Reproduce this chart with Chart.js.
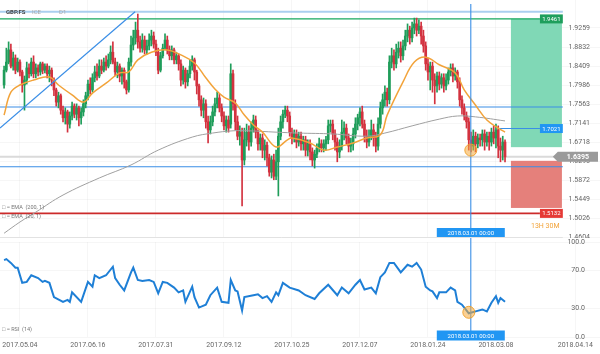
<!DOCTYPE html>
<html><head><meta charset="utf-8">
<script src="https://cdn.jsdelivr.net/npm/chart.js@4.4.1/dist/chart.umd.min.js"></script>
<style>
html,body{margin:0;padding:0;background:#fff;}
#wrap{position:relative;width:600px;height:354px;overflow:hidden;background:#fff;}
.p{position:absolute;left:0;width:600px;}
</style></head><body>
<div id="wrap">
<div class="p" style="top:0;height:238px"><canvas id="c1" width="600" height="238"></canvas></div>
<div class="p" style="top:238px;height:116px"><canvas id="c2" width="600" height="116"></canvas></div>
</div>
<script>
// ---- daily candles (index 0 = 2017-04-25 approx) ----
const opens = [1.799,1.832,1.850,1.877,1.841,1.859,1.832,1.850,1.828,1.799,
1.810,1.837,1.824,1.850,1.824,1.837,1.828,1.846,1.832,1.841,
1.824,1.832,1.810,1.788,1.761,1.775,1.743,1.726,1.739,1.712,
1.730,1.752,1.734,1.748,1.726,1.739,1.757,1.775,1.801,1.788,
1.815,1.828,1.819,1.841,1.832,1.850,1.841,1.855,1.872,1.850,
1.828,1.841,1.819,1.832,1.806,1.788,1.850,1.888,1.904,1.921,
1.895,1.881,1.899,1.877,1.886,1.899,1.908,1.890,1.872,1.832,
1.864,1.881,1.899,1.877,1.864,1.877,1.855,1.864,1.846,1.810,
1.832,1.806,1.824,1.841,1.855,1.828,1.797,1.766,1.743,1.757,
1.717,1.699,1.717,1.739,1.757,1.770,1.748,1.730,1.708,1.721,
1.712,1.824,1.757,1.717,1.685,1.694,1.632,1.677,1.694,1.672,
1.703,1.721,1.694,1.668,1.681,1.654,1.665,1.637,1.605,1.632,
1.596,1.628,1.685,1.717,1.734,1.743,1.730,1.694,1.681,1.690,
1.672,1.685,1.668,1.677,1.654,1.668,1.650,1.632,1.645,1.659,
1.668,1.659,1.668,1.677,1.708,1.712,1.690,1.672,1.650,1.663,
1.694,1.703,1.681,1.663,1.668,1.690,1.712,1.726,1.739,1.712,
1.685,1.672,1.685,1.699,1.681,1.663,1.712,1.748,1.766,1.783,
1.766,1.850,1.864,1.846,1.872,1.881,1.864,1.886,1.908,1.921,
1.904,1.926,1.935,1.921,1.930,1.908,1.886,1.846,1.828,1.841,
1.810,1.797,1.819,1.801,1.815,1.797,1.810,1.828,1.837,1.819,
1.828,1.806,1.766,1.748,1.730,1.717,1.677,1.663,1.685,1.668,
1.681,1.677,1.690,1.672,1.685,1.672,1.694,1.681,1.699,1.663,
1.654,1.672];
const highs = [1.841,1.881,1.895,1.890,1.872,1.866,1.859,1.855,1.832,1.819,
1.850,1.846,1.859,1.864,1.846,1.844,1.850,1.850,1.846,1.846,
1.841,1.837,1.815,1.792,1.783,1.779,1.752,1.748,1.743,1.739,
1.761,1.757,1.757,1.752,1.748,1.766,1.783,1.810,1.815,1.824,
1.841,1.846,1.855,1.855,1.859,1.864,1.868,1.886,1.895,1.859,
1.850,1.846,1.837,1.837,1.810,1.859,1.908,1.921,1.939,1.957,
1.908,1.913,1.908,1.899,1.913,1.921,1.917,1.899,1.881,1.872,
1.890,1.913,1.908,1.886,1.886,1.881,1.872,1.868,1.855,1.841,
1.837,1.832,1.855,1.864,1.859,1.832,1.801,1.775,1.770,1.766,
1.730,1.730,1.752,1.770,1.783,1.779,1.757,1.739,1.730,1.730,
1.846,1.832,1.766,1.730,1.708,1.703,1.703,1.712,1.708,1.717,
1.732,1.730,1.699,1.690,1.690,1.677,1.672,1.645,1.641,1.645,
1.654,1.703,1.730,1.743,1.752,1.752,1.739,1.703,1.699,1.699,
1.694,1.694,1.685,1.685,1.677,1.677,1.659,1.654,1.668,1.681,
1.677,1.677,1.685,1.721,1.721,1.721,1.699,1.681,1.677,1.721,
1.717,1.712,1.690,1.681,1.703,1.726,1.734,1.748,1.752,1.721,
1.699,1.699,1.721,1.712,1.694,1.726,1.761,1.779,1.797,1.792,
1.864,1.881,1.877,1.890,1.895,1.895,1.899,1.921,1.935,1.930,
1.939,1.948,1.948,1.944,1.939,1.921,1.895,1.859,1.850,1.850,
1.824,1.828,1.828,1.824,1.824,1.824,1.837,1.846,1.846,1.837,
1.832,1.815,1.775,1.757,1.739,1.726,1.694,1.699,1.694,1.690,
1.690,1.699,1.699,1.694,1.694,1.703,1.708,1.712,1.708,1.681,
1.685,1.677];
const lows = [1.792,1.828,1.846,1.837,1.832,1.824,1.828,1.819,1.783,1.743,
1.801,1.815,1.819,1.815,1.815,1.819,1.821,1.824,1.826,1.815,
1.806,1.797,1.775,1.752,1.748,1.734,1.717,1.712,1.694,1.703,
1.721,1.726,1.721,1.708,1.712,1.730,1.748,1.766,1.779,1.783,
1.806,1.810,1.815,1.824,1.828,1.832,1.837,1.846,1.846,1.819,
1.815,1.806,1.801,1.792,1.779,1.783,1.841,1.877,1.890,1.881,
1.872,1.872,1.868,1.868,1.877,1.886,1.881,1.864,1.824,1.828,
1.859,1.877,1.868,1.855,1.855,1.846,1.846,1.832,1.797,1.801,
1.792,1.797,1.815,1.832,1.810,1.779,1.752,1.730,1.726,1.703,
1.670,1.690,1.708,1.730,1.748,1.739,1.717,1.699,1.694,1.694,
1.703,1.743,1.699,1.677,1.665,1.530,1.621,1.663,1.654,1.663,
1.694,1.681,1.654,1.654,1.637,1.632,1.619,1.596,1.592,1.588,
1.588,1.552,1.677,1.703,1.726,1.717,1.685,1.668,1.672,1.659,
1.663,1.654,1.654,1.641,1.641,1.632,1.619,1.614,1.637,1.650,
1.650,1.650,1.654,1.668,1.694,1.677,1.654,1.628,1.637,1.654,
1.677,1.668,1.650,1.650,1.654,1.681,1.699,1.708,1.703,1.672,
1.659,1.663,1.677,1.663,1.650,1.654,1.703,1.734,1.752,1.752,
1.757,1.837,1.832,1.837,1.859,1.850,1.855,1.877,1.895,1.890,
1.895,1.913,1.908,1.913,1.890,1.872,1.832,1.810,1.788,1.783,
1.757,1.783,1.788,1.792,1.783,1.788,1.801,1.819,1.806,1.810,
1.792,1.752,1.734,1.721,1.703,1.654,1.650,1.654,1.650,1.659,
1.663,1.663,1.654,1.663,1.654,1.663,1.668,1.659,1.637,1.628,
1.632,1.628];
const closes = [1.832,1.850,1.877,1.841,1.859,1.832,1.850,1.828,1.799,1.810,
1.837,1.824,1.850,1.824,1.837,1.828,1.846,1.832,1.841,1.824,
1.832,1.810,1.788,1.761,1.775,1.743,1.726,1.739,1.712,1.730,
1.752,1.734,1.748,1.726,1.739,1.757,1.775,1.801,1.788,1.815,
1.828,1.819,1.841,1.832,1.850,1.841,1.855,1.872,1.850,1.828,
1.841,1.819,1.832,1.806,1.788,1.850,1.888,1.904,1.921,1.895,
1.881,1.899,1.877,1.886,1.899,1.908,1.890,1.872,1.832,1.864,
1.881,1.899,1.877,1.864,1.877,1.855,1.864,1.846,1.810,1.832,
1.806,1.824,1.841,1.855,1.828,1.797,1.766,1.743,1.757,1.717,
1.699,1.717,1.739,1.757,1.770,1.748,1.730,1.708,1.721,1.703,
1.824,1.757,1.717,1.685,1.694,1.632,1.677,1.694,1.672,1.703,
1.721,1.694,1.668,1.681,1.654,1.665,1.637,1.605,1.632,1.596,
1.628,1.685,1.717,1.734,1.743,1.730,1.694,1.681,1.690,1.672,
1.685,1.668,1.677,1.654,1.668,1.650,1.632,1.645,1.659,1.668,
1.659,1.668,1.677,1.708,1.712,1.690,1.672,1.650,1.663,1.694,
1.703,1.681,1.663,1.668,1.690,1.712,1.726,1.739,1.712,1.685,
1.672,1.685,1.699,1.681,1.663,1.712,1.748,1.766,1.783,1.766,
1.850,1.864,1.846,1.872,1.881,1.864,1.886,1.908,1.921,1.904,
1.926,1.935,1.921,1.930,1.908,1.886,1.846,1.828,1.841,1.810,
1.797,1.819,1.801,1.815,1.797,1.810,1.828,1.837,1.819,1.828,
1.806,1.766,1.748,1.730,1.717,1.677,1.663,1.685,1.668,1.681,
1.677,1.690,1.672,1.685,1.672,1.694,1.681,1.699,1.663,1.654,
1.672,1.639];

// ---- moving averages (read at sample candles) ----
const ema20Idx = [0,3,7,13,20,24,30,35,39,45,51,55,59,65,72,78,84,89,93,97,102,106,110,114,120,125,127,135,141,147,154,160,166,169,176,181,186,192,199,203,208,213,218,221];
const ema20Val = [1.732,1.783,1.799,1.810,1.817,1.799,1.777,1.761,1.781,1.803,1.826,1.828,1.855,1.872,1.877,1.866,1.848,1.815,1.790,1.772,1.759,1.732,1.710,1.694,1.661,1.677,1.681,1.670,1.654,1.661,1.670,1.681,1.688,1.732,1.806,1.850,1.861,1.844,1.826,1.788,1.754,1.721,1.703,1.694];
const ema200Idx = [0,7,14,26,42,56,68,83,92,101,108,120,130,145,160,168,180,192,200,208,221];
const ema200Val = [1.469,1.494,1.516,1.554,1.592,1.621,1.654,1.683,1.692,1.697,1.697,1.694,1.692,1.690,1.685,1.692,1.708,1.723,1.730,1.728,1.719];

// ---- RSI(14) ----
const rsiIdx = [0,1,3,5,6,8,10,12,15,17,18,20,22,26,28,29,30,34,37,39,40,42,45,48,49,51,53,56,57,59,61,64,66,68,70,72,75,77,79,80,83,84,86,89,91,94,96,99,100,102,103,105,106,110,112,114,116,118,120,121,123,126,130,133,137,139,143,147,149,152,155,157,159,162,164,166,168,170,172,175,178,180,182,184,186,188,189,191,192,195,197,199,200,202,204,205,208,211,213,215,217,218,219,221];
const rsiVal = [81,82,78,73,73,57,58,65,62,58,59,57,42,37,39,37,47,37,58,53,65,62,65,74,62,55,49,68,73,60,59,60,58,46,58,57,52,47,49,37,53,42,31,34,44,52,37,36,60,49,48,28,42,44,45,41,43,37,47,44,57,52,49,44,40,46,55,44,52,46,55,60,50,52,46,63,68,78,78,68,76,74,78,71,53,49,48,41,47,47,52,49,37,34,28,25,27,29,27,36,43,36,41,37];

// ---- axes ----
const priceTicks = [1.9259,1.8832,1.8409,1.7986,1.7563,1.7141,1.6718,1.6295,1.5872,1.5449,1.5026,1.4604];
const rsiTicks = [100,70,30,0];
const xTickIdx = [7,37,67,97,127,157,187,217,252];
const xTickLabels = ['2017.05.04','2017.06.16','2017.07.31','2017.09.12','2017.10.25','2017.12.07','2018.01.24','2018.03.08','2018.04.14'];

// ---- drawing tools (price levels / index positions) ----
const trendIdx = [-1.8, 57.8];
const trendVal = [1.703, 1.962];
const lvlTop = 1.962, lvlTP = 1.9461, lvlBlueHi = 1.750, lvlEntry = 1.7021, lvlLast = 1.6395, lvlBlueLo = 1.617, lvlStop = 1.5132;
const tpBox = [1.9461, 1.6606], slBox = [1.6302, 1.5253];
const boxIdx = [223.6, 246.1];
const spanEnd = 246.5, tagStart = 236.4, entryStart = 218.8;
const crossIdx = 205.9, crossLabel = '2018.03.01 00:00';
const markPrice = 1.654, markRsi = 26;
const xMin = -1.8, xMax = 262.9;

const UP = '#1f9d5a', DN = '#d3323f', BLUE = '#3a8ee6';
Chart.defaults.font.family = 'Roboto, "DejaVu Sans", sans-serif';
Chart.defaults.color = '#666';

function tag(ctx, text, x0, x1, cy, bg, fg, h){
  h = h || 9;
  ctx.fillStyle = bg; ctx.fillRect(x0, cy - h/2, x1 - x0, h);
  ctx.fillStyle = fg; ctx.font = '6px Roboto'; ctx.textAlign = 'center'; ctx.textBaseline = 'middle';
  ctx.fillText(text, (x0 + x1)/2, cy + 0.5);
}
function hline(ctx, xs, ys, v, i0, i1, color, w){
  const py = ys.getPixelForValue(v);
  ctx.beginPath(); ctx.moveTo(xs.getPixelForValue(i0), py); ctx.lineTo(xs.getPixelForValue(i1), py);
  ctx.strokeStyle = color; ctx.lineWidth = w; ctx.stroke();
}
function circle(ctx, x, y){
  ctx.beginPath(); ctx.arc(x, y, 6, 0, Math.PI*2);
  ctx.fillStyle = 'rgba(245,170,60,0.55)'; ctx.fill();
  ctx.strokeStyle = 'rgba(240,160,40,0.9)'; ctx.lineWidth = 1; ctx.stroke();
}
function noPad(s){ s.width = 0; s.paddingTop = 0; s.paddingBottom = 0; }

const overlayTop = {
  id: 'overlayTop',
  beforeDatasetsDraw(chart){
    const {ctx, scales:{x, y}} = chart;
    ctx.save();
    const bx0 = x.getPixelForValue(boxIdx[0]), bx1 = x.getPixelForValue(boxIdx[1]);
    ctx.fillStyle = '#80d8b6';
    ctx.fillRect(bx0, y.getPixelForValue(tpBox[0]), bx1 - bx0, y.getPixelForValue(tpBox[1]) - y.getPixelForValue(tpBox[0]));
    ctx.fillStyle = '#e5807b';
    ctx.fillRect(bx0, y.getPixelForValue(slBox[0]), bx1 - bx0, y.getPixelForValue(slBox[1]) - y.getPixelForValue(slBox[0]));
    hline(ctx, x, y, lvlTop, xMin, spanEnd, 'rgba(150,195,235,0.8)', 2);
    hline(ctx, x, y, lvlTP, xMin, tagStart, '#17a85e', 1.3);
    hline(ctx, x, y, lvlBlueHi, xMin, spanEnd, BLUE, 1.1);
    hline(ctx, x, y, lvlEntry, entryStart, tagStart, BLUE, 1.1);
    hline(ctx, x, y, lvlLast, xMin, spanEnd, '#dadada', 2);
    hline(ctx, x, y, lvlBlueLo, xMin, spanEnd, BLUE, 1.1);
    hline(ctx, x, y, lvlStop, xMin, tagStart, '#cc2a2a', 1.8);
    ctx.restore();
  },
  afterDraw(chart){
    const {ctx, scales:{x, y}, chartArea} = chart;
    ctx.save();
    const cx = x.getPixelForValue(crossIdx);
    ctx.beginPath(); ctx.moveTo(cx, 4); ctx.lineTo(cx, chartArea.bottom); ctx.strokeStyle = BLUE; ctx.lineWidth = 1.1; ctx.stroke();
    circle(ctx, cx, y.getPixelForValue(markPrice));
    const t0 = x.getPixelForValue(tagStart), t1 = x.getPixelForValue(spanEnd);
    tag(ctx, lvlTP.toFixed(4), t0, t1, y.getPixelForValue(lvlTP), '#1e9e5c', '#fff');
    tag(ctx, lvlEntry.toFixed(4), t0, t1, y.getPixelForValue(lvlEntry), '#2196f3', '#fff');
    tag(ctx, lvlStop.toFixed(4), t0, t1, y.getPixelForValue(lvlStop), '#e53935', '#fff');
    // last price tag with arrow
    const ly = y.getPixelForValue(lvlLast), lx0 = t1 - 10, lx1 = chartArea.right - 2;
    ctx.beginPath(); ctx.moveTo(lx0, ly); ctx.lineTo(lx0 + 5, ly - 5); ctx.lineTo(lx1, ly - 5); ctx.lineTo(lx1, ly + 5); ctx.lineTo(lx0 + 5, ly + 5); ctx.closePath();
    ctx.fillStyle = '#9a9a9a'; ctx.fill();
    ctx.fillStyle = '#fff'; ctx.font = 'bold 7px Roboto'; ctx.textAlign = 'center'; ctx.textBaseline = 'middle';
    ctx.fillText(lvlLast.toFixed(4), (lx0 + 5 + lx1)/2, ly + 0.5);
    // crosshair date tag
    tag(ctx, crossLabel, cx - 34, cx + 34, 232.5, '#2196f3', '#fff');
    // texts
    ctx.textAlign = 'left'; ctx.textBaseline = 'middle';
    ctx.font = 'bold 6px Roboto'; ctx.fillStyle = '#444'; ctx.fillText('GBP.FS', 6, 12);
    ctx.font = '6px Roboto'; ctx.fillStyle = '#aaa'; ctx.fillText('ICE', 32, 12); ctx.fillText('D1', 59, 12);
    ctx.font = '5.5px Roboto'; ctx.fillStyle = '#777';
    ctx.fillText('□ ≡ EMA  (200, 1)', 2, 208);
    ctx.fillText('□ ≡ EMA  (20, 1)', 2, 217);
    ctx.font = '7px Roboto'; ctx.fillStyle = '#f2a33a'; ctx.fillText('13H 30M', 531, 226);
    // panel separator
    ctx.beginPath(); ctx.moveTo(0, 237.5); ctx.lineTo(x.getPixelForValue(spanEnd), 237.5); ctx.strokeStyle = '#e2e2e2'; ctx.lineWidth = 1; ctx.stroke();
    ctx.restore();
  }
};

const overlayBottom = {
  id: 'overlayBottom',
  afterDraw(chart){
    const {ctx, scales:{x, y}, chartArea} = chart;
    ctx.save();
    const cx = x.getPixelForValue(crossIdx);
    ctx.beginPath(); ctx.moveTo(cx, 0); ctx.lineTo(cx, chartArea.bottom - 2); ctx.strokeStyle = BLUE; ctx.lineWidth = 1.1; ctx.stroke();
    circle(ctx, cx - 2, y.getPixelForValue(markRsi));
    tag(ctx, crossLabel, cx - 34, cx + 34, 97.5, '#2196f3', '#fff', 10);
    ctx.textAlign = 'left'; ctx.textBaseline = 'middle';
    ctx.font = '5.5px Roboto'; ctx.fillStyle = '#777'; ctx.fillText('□ ≡ RSI  (14)', 2, 92);
    ctx.restore();
  }
};

const grid = 'rgba(0,0,0,0.035)';
const tickFont = {size: 7};

new Chart(document.getElementById('c1'), {
  type: 'bar',
  data: { datasets: [
    { type:'line', data: trendIdx.map((k,i)=>({x:k, y:trendVal[i]})), borderColor:BLUE, borderWidth:1.2, pointRadius:0, order:0 },
    { type:'line', data: ema20Idx.map((k,i)=>({x:k, y:ema20Val[i]})), borderColor:'#f2a33a', borderWidth:1.5, pointRadius:0, tension:0.4, order:0 },
    { type:'line', data: ema200Idx.map((k,i)=>({x:k, y:ema200Val[i]})), borderColor:'#a0a0a0', borderWidth:1, pointRadius:0, tension:0.4, order:0 },
    { type:'bar', data: closes.map((c,i)=>({x:i, y:[opens[i], c]})), grouped:false, barThickness:2, minBarLength:1,
      backgroundColor: c => closes[c.dataIndex] >= opens[c.dataIndex] ? UP : DN, order:1 },
    { type:'bar', data: closes.map((c,i)=>({x:i, y:[lows[i], highs[i]]})), grouped:false, barThickness:1,
      backgroundColor: c => closes[c.dataIndex] >= opens[c.dataIndex] ? UP : DN, order:2 }
  ]},
  options: {
    responsive:false, devicePixelRatio:1, animation:false, events:[],
    layout:{padding:0},
    plugins:{legend:{display:false}, tooltip:{enabled:false}},
    scales:{
      x:{ type:'linear', min:xMin, max:xMax, offset:false, grid:{color:grid, drawTicks:false, offset:false}, border:{display:false},
          ticks:{display:false}, afterBuildTicks:s=>{s.ticks = xTickIdx.map(v=>({value:v}));}, afterFit:s=>{s.height = 0; s.paddingLeft = 0; s.paddingRight = 0;} },
      y:{ type:'linear', position:'right', min:1.4584, max:1.9882, grid:{color:grid, drawTicks:false}, border:{display:false},
          afterBuildTicks:s=>{s.ticks = priceTicks.map(v=>({value:v}));}, afterFit:noPad,
          ticks:{mirror:true, padding:-10, color:'#666', font:tickFont, autoSkip:false, callback:v=>Number(v).toFixed(4)} }
    }
  },
  plugins:[overlayTop]
});

new Chart(document.getElementById('c2'), {
  type: 'line',
  data: { datasets: [
    { data: rsiIdx.map((k,i)=>({x:k, y:rsiVal[i]})), borderColor:'#1e7fd6', borderWidth:2, pointRadius:0, tension:0 }
  ]},
  options: {
    responsive:false, devicePixelRatio:1, animation:false, events:[],
    layout:{padding:{top:4}},
    plugins:{legend:{display:false}, tooltip:{enabled:false}},
    scales:{
      x:{ type:'linear', min:xMin, max:xMax, grid:{color:grid, drawTicks:false}, border:{display:false},
          afterBuildTicks:s=>{s.ticks = xTickIdx.map(v=>({value:v}));}, afterFit:s=>{s.height = 17; s.paddingLeft = 0; s.paddingRight = 0;},
          ticks:{padding:4, autoSkip:false, maxRotation:0, color:'#666', font:tickFont, callback:(v,i)=>xTickLabels[i]} },
      y:{ type:'linear', position:'right', min:0, max:100, grid:{color:grid, drawTicks:false}, border:{display:false},
          afterBuildTicks:s=>{s.ticks = rsiTicks.map(v=>({value:v}));}, afterFit:noPad,
          ticks:{mirror:true, padding:-15, color:'#666', font:tickFont, autoSkip:false, callback:v=>Number(v).toFixed(1)} }
    }
  },
  plugins:[overlayBottom]
});
</script>
</body></html>
